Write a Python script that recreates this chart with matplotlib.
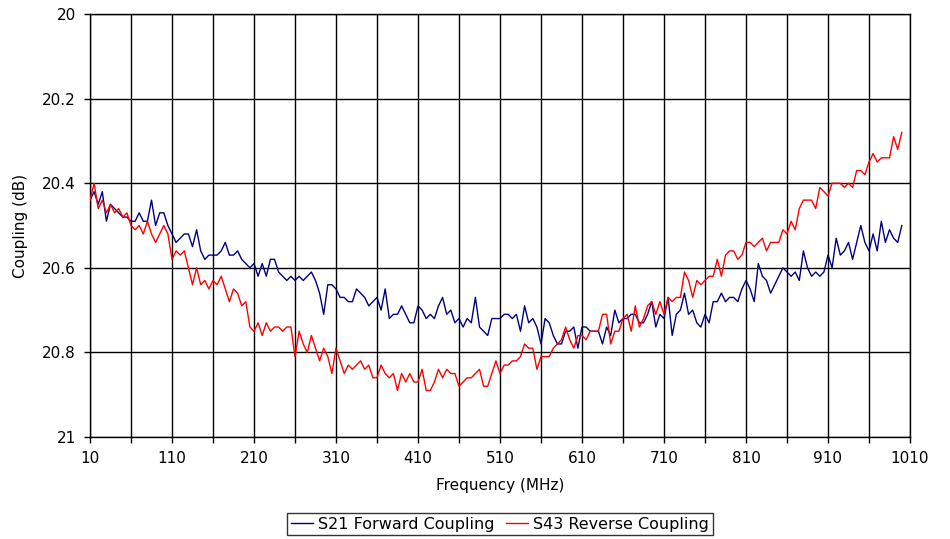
import numpy as np
import matplotlib
matplotlib.use('Agg')
import matplotlib.pyplot as plt
from matplotlib.ticker import FixedLocator, MultipleLocator, FormatStrFormatter

# Sweep 10 MHz .. 1000 MHz in 5 MHz steps, one row of values per 50 MHz
freq_mhz = np.arange(10, 1001, 5)

s21_forward = [
    20.44, 20.42, 20.45, 20.42, 20.49, 20.45, 20.46, 20.47, 20.48, 20.48,
    20.49, 20.49, 20.47, 20.49, 20.49, 20.44, 20.50, 20.47, 20.47, 20.50,
    20.52, 20.54, 20.53, 20.52, 20.52, 20.55, 20.51, 20.56, 20.58, 20.57,
    20.57, 20.57, 20.56, 20.54, 20.57, 20.57, 20.56, 20.58, 20.59, 20.60,
    20.59, 20.62, 20.59, 20.62, 20.58, 20.58, 20.61, 20.62, 20.63, 20.62,
    20.63, 20.62, 20.63, 20.62, 20.61, 20.63, 20.66, 20.71, 20.64, 20.64,
    20.65, 20.67, 20.67, 20.68, 20.68, 20.65, 20.66, 20.67, 20.69, 20.68,
    20.67, 20.70, 20.65, 20.72, 20.71, 20.71, 20.69, 20.71, 20.73, 20.73,
    20.69, 20.70, 20.72, 20.71, 20.72, 20.69, 20.67, 20.71, 20.70, 20.73,
    20.72, 20.74, 20.72, 20.73, 20.67, 20.74, 20.75, 20.76, 20.72, 20.72,
    20.72, 20.71, 20.71, 20.72, 20.71, 20.75, 20.69, 20.73, 20.72, 20.74,
    20.78, 20.72, 20.73, 20.76, 20.78, 20.78, 20.75, 20.75, 20.74, 20.79,
    20.74, 20.74, 20.75, 20.75, 20.75, 20.78, 20.74, 20.76, 20.70, 20.73,
    20.72, 20.72, 20.71, 20.71, 20.73, 20.73, 20.71, 20.68, 20.74, 20.71,
    20.72, 20.67, 20.76, 20.71, 20.70, 20.66, 20.71, 20.70, 20.73, 20.74,
    20.71, 20.73, 20.68, 20.68, 20.66, 20.68, 20.67, 20.67, 20.68, 20.65,
    20.63, 20.65, 20.68, 20.59, 20.62, 20.63, 20.66, 20.64, 20.62, 20.60,
    20.61, 20.62, 20.61, 20.63, 20.56, 20.60, 20.62, 20.61, 20.62, 20.61,
    20.57, 20.60, 20.53, 20.57, 20.56, 20.54, 20.58, 20.54, 20.50, 20.54,
    20.56, 20.52, 20.56, 20.49, 20.54, 20.51, 20.53, 20.54, 20.50,
]

s43_reverse = [
    20.44, 20.40, 20.46, 20.44, 20.47, 20.45, 20.47, 20.46, 20.48, 20.47,
    20.50, 20.51, 20.50, 20.52, 20.49, 20.52, 20.54, 20.52, 20.50, 20.52,
    20.58, 20.56, 20.57, 20.56, 20.60, 20.64, 20.60, 20.64, 20.63, 20.65,
    20.63, 20.64, 20.62, 20.65, 20.68, 20.65, 20.66, 20.69, 20.68, 20.74,
    20.75, 20.73, 20.76, 20.73, 20.75, 20.74, 20.74, 20.75, 20.74, 20.74,
    20.81, 20.75, 20.78, 20.80, 20.76, 20.79, 20.82, 20.79, 20.81, 20.85,
    20.79, 20.82, 20.85, 20.83, 20.84, 20.83, 20.82, 20.84, 20.83, 20.86,
    20.86, 20.83, 20.85, 20.86, 20.85, 20.89, 20.85, 20.87, 20.85, 20.87,
    20.87, 20.84, 20.89, 20.89, 20.87, 20.84, 20.86, 20.84, 20.85, 20.85,
    20.88, 20.87, 20.86, 20.86, 20.85, 20.84, 20.88, 20.88, 20.85, 20.82,
    20.85, 20.83, 20.83, 20.82, 20.82, 20.81, 20.78, 20.79, 20.79, 20.84,
    20.81, 20.81, 20.81, 20.79, 20.78, 20.77, 20.74, 20.77, 20.79, 20.76,
    20.76, 20.77, 20.75, 20.75, 20.75, 20.71, 20.71, 20.78, 20.75, 20.75,
    20.72, 20.71, 20.75, 20.69, 20.74, 20.72, 20.69, 20.68, 20.71, 20.68,
    20.71, 20.67, 20.68, 20.67, 20.67, 20.61, 20.63, 20.67, 20.63, 20.64,
    20.63, 20.62, 20.62, 20.58, 20.62, 20.57, 20.56, 20.56, 20.58, 20.57,
    20.54, 20.54, 20.55, 20.54, 20.53, 20.56, 20.54, 20.54, 20.54, 20.51,
    20.52, 20.49, 20.51, 20.46, 20.44, 20.44, 20.44, 20.46, 20.41, 20.42,
    20.43, 20.40, 20.40, 20.40, 20.41, 20.40, 20.41, 20.37, 20.37, 20.38,
    20.35, 20.33, 20.35, 20.34, 20.34, 20.34, 20.29, 20.32, 20.28,
]

series_names = ['S21 Forward Coupling', 'S43 Reverse Coupling']
series_colors = ['#000080', '#ff0000']

plt.rcParams['font.family'] = ['DejaVu Sans']

fig = plt.figure(figsize=(9.5, 5.39), dpi=100)
fig.set_facecolor('w')
ax = fig.add_axes([90/950., 1 - 437/539., 820/950., 423/539.])

for vals, name, col in zip([s21_forward, s43_reverse], series_names, series_colors):
    ax.plot(freq_mhz, vals, '-', color=col, lw=1.0, label=name, zorder=3)

ax.set_xlim(10, 1010)
ax.set_ylim(21, 20)
ax.xaxis.set_major_locator(FixedLocator(np.arange(10, 1011, 100)))
ax.xaxis.set_minor_locator(FixedLocator(np.arange(60, 1011, 100)))
ax.yaxis.set_major_locator(MultipleLocator(0.2))
ax.yaxis.set_major_formatter(FormatStrFormatter('%g'))

ax.grid(True, which='both', axis='x', color='k', lw=1.0)
ax.grid(True, which='major', axis='y', color='k', lw=1.0)
ax.set_axisbelow(True)

for sp in ax.spines.values():
    sp.set_color('k')
    sp.set_linewidth(1.0)

ax.tick_params(axis='both', which='major', direction='out', length=4, width=1,
               labelsize=11, color='k', pad=6)
ax.tick_params(axis='x', which='minor', direction='out', length=4, width=1)

ax.set_xlabel('Frequency (MHz)', fontsize=11, labelpad=9)
ax.set_ylabel('Coupling (dB)', fontsize=11, labelpad=10)

leg = ax.legend(loc='center', bbox_to_anchor=(500/950., 1 - 524/539.),
                bbox_transform=fig.transFigure, ncol=2, fontsize=11.5,
                frameon=True, fancybox=False, handlelength=1.4,
                handletextpad=0.3, columnspacing=0.7, borderpad=0.25,
                borderaxespad=0)
leg.get_frame().set_edgecolor('k')
leg.get_frame().set_linewidth(1.0)

fig.savefig('out.png', dpi=100, facecolor='w')
